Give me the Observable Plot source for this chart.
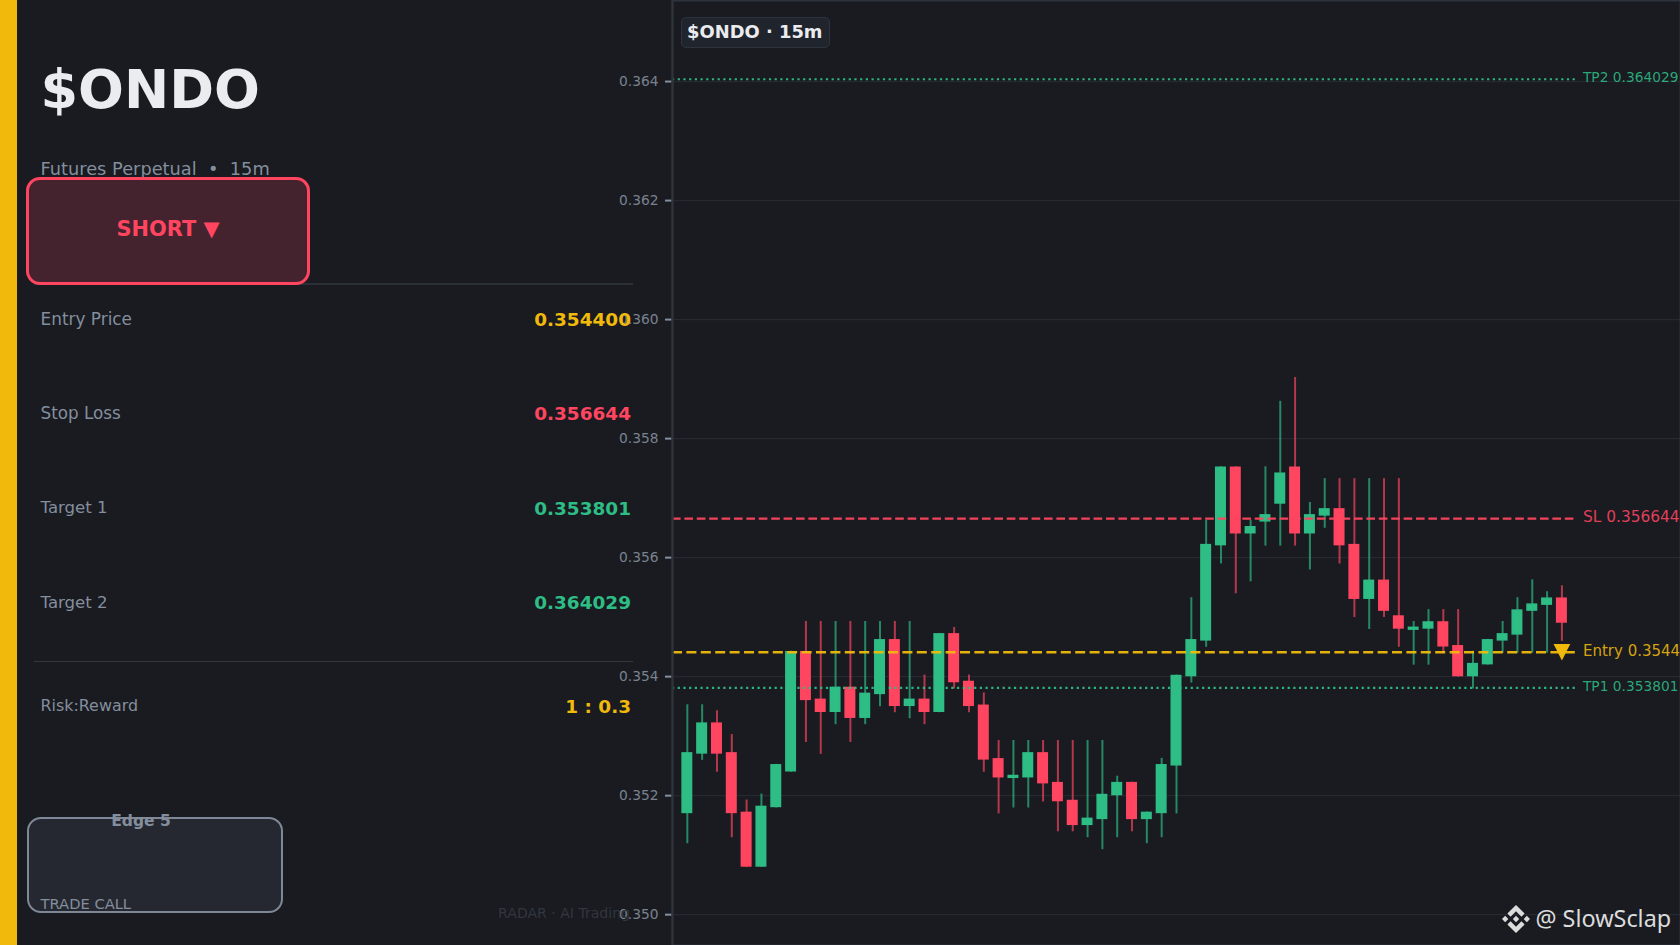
<!DOCTYPE html>
<html>
<head>
<meta charset="utf-8">
<script src="https://cdn.jsdelivr.net/npm/d3@7"></script>
<script src="https://cdn.jsdelivr.net/npm/@observablehq/plot@0.6"></script>
<style>
  html,body{margin:0;padding:0;background:#191b21;}
  #stage{position:relative;width:1680px;height:945px;overflow:hidden;background:#191b21;font-family:"DejaVu Sans",sans-serif;}
  #stage svg.plot{position:absolute;left:0;top:0;background:transparent;overflow:hidden;}
  .t{position:absolute;white-space:pre;line-height:1;}
  .box{position:absolute;box-sizing:border-box;}
  .lab{color:#848e9c;font-size:16.8px;left:40.5px;}
  .val{font-weight:700;font-size:18.45px;right:1049px;}
</style>
</head>
<body>
<div id="stage"></div>
<script>
const opens  = [.3517,.3527,.3532,.3527,.3517,.3508,.3518,.3524,.3544,.3536,.3534,.3538,.3533,.3537,.3546,.3535,.3536,.3534,.3547,.3539,.3535,.3526,.35229,.3523,.3527,.3522,.3519,.3515,.3516,.3520,.3522,.3516,.3517,.3525,.3540,.3546,.3562,.3575,.3564,.3566,.3569,.3575,.3564,.3567,.3568,.3562,.3553,.3556,.3550,.35478,.3548,.3549,.3545,.3540,.3542,.3546,.3547,.3551,.3552,.3553];
const closes = [.3527,.3532,.3527,.3517,.3508,.3518,.3525,.3544,.3536,.3534,.3538,.3533,.3537,.3546,.3535,.3536,.3534,.3547,.3539,.3535,.3526,.3523,.35232,.3527,.3522,.3519,.3515,.3516,.3520,.3522,.3516,.3517,.3525,.3540,.3546,.3562,.3575,.3564,.3565,.3567,.3574,.3564,.3567,.3568,.3562,.3553,.3556,.3551,.3548,.35481,.3549,.3545,.3540,.3542,.3546,.3547,.3551,.3552,.3553,.3549];
const highs  = [.3535,.3535,.3534,.3530,.3519,.3520,.3525,.3544,.3549,.3549,.3549,.3549,.3549,.3549,.3549,.3549,.3540,.3547,.3548,.3540,.3537,.3529,.3529,.3529,.3529,.3529,.3529,.3529,.3529,.3523,.3522,.3517,.3526,.3540,.3553,.3566,.3575,.3575,.3566,.3575,.3586,.3590,.3569,.3573,.3573,.3573,.3573,.3573,.3573,.3549,.3551,.3551,.3551,.3544,.3546,.3549,.3553,.3556,.3554,.3555];
const lows   = [.3512,.3526,.3524,.3513,.3508,.3508,.3518,.3524,.3529,.3527,.3532,.3529,.3532,.3535,.3534,.3533,.3532,.3534,.3538,.3534,.3524,.3517,.3518,.3518,.3519,.3514,.3514,.3513,.3511,.3513,.3514,.3512,.3513,.3517,.3539,.3545,.3559,.3554,.3556,.3562,.3562,.3562,.3558,.3565,.3559,.3550,.3548,.3550,.3545,.3542,.3542,.3544,.3540,.3538,.3542,.3544,.3544,.3544,.3544,.3546];

const yTicks = [.350,.352,.354,.356,.358,.360,.362,.364];

const levelNames  = ["Entry","SL","TP1","TP2"];
const levelPrices = [.3544,.356644,.353801,.364029];
const levelLabels = ["Entry 0.3544","SL 0.356644","TP1 0.353801","TP2 0.364029"];

const rowLabels = ["Entry Price","Stop Loss","Target 1","Target 2","Risk:Reward"];
const rowValues = ["0.354400","0.356644","0.353801","0.364029","1 : 0.3"];

const GOLD="#f0b90b", GREEN="#2ebd85", RED="#ff4560", MUTED="#848e9c", LINE="#2b2f36", BRIGHT="#eaecef";

const candles = opens.map((o,i)=>({i,o,c:closes[i],h:highs[i],l:lows[i],dir:closes[i]>=o?"up":"down"}));
const last = candles.length - 1;
const levels = levelNames.map((n,k)=>({n,price:levelPrices[k],label:levelLabels[k]}));
const levelEnd = last + 1, labelAt = last + 1.42;
const lv = n => levels.filter(d=>d.n===n);
const levelLine = (n,color,dash,w)=>Plot.ruleY(lv(n),{y:"price",x1:-1,x2:levelEnd,stroke:color,strokeWidth:w,strokeDasharray:dash,strokeOpacity:.95});
const levelText = (n,color,size)=>Plot.text(lv(n),{x:labelAt,y:"price",text:"label",fill:color,fillOpacity:.88,textAnchor:"start",lineAnchor:"middle",dy:-1.5,fontSize:size});

const downTriangle = {draw(ctx,size){const s=Math.sqrt(size);ctx.moveTo(-s*.5,-s*.5);ctx.lineTo(s*.5,-s*.5);ctx.lineTo(0,s*.5);ctx.closePath();}};

const chart = Plot.plot({
  width:1680,height:945,
  marginLeft:672,marginRight:0,marginTop:0,marginBottom:0,
  style:{background:"transparent",fontFamily:"'DejaVu Sans',sans-serif"},
  x:{domain:[-1,67],axis:null},
  y:{domain:[.349472,.365352],axis:null},
  color:{domain:["up","down"],range:[GREEN,RED]},
  marks:[
    Plot.ruleY(yTicks,{stroke:LINE,strokeWidth:1.3,strokeOpacity:.75,dy:.6}),
    Plot.ruleX(candles,{x:"i",y1:"l",y2:"h",stroke:"dir",strokeWidth:2,strokeOpacity:.68,strokeLinecap:"square"}),
    Plot.rect(candles,{x1:d=>d.i-.32,x2:d=>d.i+.32,y1:"o",y2:"c",fill:"dir",stroke:"dir",strokeWidth:1.5}),
    levelLine("TP2",GREEN,"2.2,3.5",2.2),
    levelLine("TP1",GREEN,"2.2,3.5",2.2),
    levelLine("SL",RED,"8.6,3.8",2.3),
    levelLine("Entry",GOLD,"10,4.4",2.6),
    Plot.dot([candles[last]],{x:"i",y:()=>levelPrices[0],symbol:downTriangle,r:9.4,fill:GOLD,stroke:null}),
    levelText("TP2",GREEN,13.75),levelText("TP1",GREEN,13.75),levelText("SL",RED,15.4),levelText("Entry",GOLD,15),
    Plot.axisY(yTicks,{anchor:"left",tickSize:7,tickPadding:7,stroke:MUTED,strokeWidth:2,fill:"#7a828e",tickFormat:".3f",fontSize:13.8,dy:.6}),
    Plot.ruleX([-1],{stroke:"#2f333b",strokeWidth:2}),
    Plot.frame({stroke:"#2f333b",strokeWidth:2})
  ]
});

const stage = document.getElementById("stage");
function add(cls,css,text){const e=document.createElement("div");e.className=cls;e.style.cssText=css;if(text!=null)e.textContent=text;stage.appendChild(e);return e;}

/* left card, beneath the chart layer */
add("box",`left:0;top:0;width:17px;height:945px;background:${GOLD};`);
add("t",`left:40.5px;top:63px;font-size:54px;font-weight:700;color:${BRIGHT};line-height:54px;`,"$ONDO");
add("t",`left:40.5px;top:160px;font-size:17.8px;color:${MUTED};`,"Futures Perpetual  •  15m");
add("box",`left:34px;top:283px;width:599px;height:2px;background:${LINE};`);
add("box",`left:26px;top:176.5px;width:284px;height:108px;border:3px solid ${RED};border-radius:14px;background:#44232e;`);
add("t",`left:168px;top:229px;transform:translate(-50%,-50%);font-size:20.9px;font-weight:700;color:${RED};`,"SHORT ▼");
const rowY=[319,413,508,602.5,706];
const rowColor=[GOLD,RED,GREEN,GREEN,GOLD];
const rowSize=[16.9,16.8,16.6,16.6,15.9];
rowLabels.forEach((l,k)=>{
  add("t lab",`top:${rowY[k]}px;transform:translateY(-50%);font-size:${rowSize[k]}px;`,l);
  add("t val",`top:${rowY[k]+.5}px;transform:translateY(-50%);color:${rowColor[k]};`,rowValues[k]);
});
add("box",`left:34px;top:661px;width:599px;height:1px;background:#33373f;`);
add("box",`left:26.5px;top:817px;width:256px;height:96px;border:2px solid #7f8896;border-radius:14px;background:#252830;`);
add("t",`left:141px;top:822px;transform:translate(-50%,-50%);font-size:15.5px;font-weight:700;color:${MUTED};`,"Edge 5");
add("t",`left:40.5px;top:896.5px;font-size:14.7px;color:${MUTED};`,"TRADE CALL");
add("t",`right:1050px;top:913px;transform:translateY(-50%);font-size:14.05px;color:#32363e;`,"RADAR · AI Trading");

stage.appendChild(chart);

/* chart badge and watermark, above the chart layer */
add("box",`left:681px;top:17px;width:149px;height:30.5px;background:#20242c;border:1.3px solid #2f333b;border-radius:5px;`);
add("t",`left:687px;top:31.5px;transform:translateY(-50%);font-size:17.9px;font-weight:700;color:${BRIGHT};`,"$ONDO · 15m");
const logo=add("box",`left:1502px;top:905px;width:28px;height:28px;`);
logo.innerHTML=`<svg viewBox="0 0 126.61 126.61" width="28" height="28" fill="#dcdcdc"><path d="M38.73 53.2l24.59-24.58 24.6 24.6 14.3-14.31L63.32 0 24.42 38.9z"/><path d="M0 63.31l14.3-14.31 14.31 14.31-14.31 14.3z"/><path d="M38.73 73.41L63.32 98l24.6-24.6 14.31 14.29-38.9 38.91-38.91-38.88z"/><path d="M98 63.31l14.3-14.31 14.31 14.3-14.31 14.32z"/><path d="M77.83 63.3L63.32 48.78 52.59 59.51l-1.24 1.23-2.54 2.54 14.51 14.5 14.51-14.47z"/></svg>`;
add("t",`left:1535.5px;top:919px;transform:translateY(-50%);font-family:'Noto Sans',sans-serif;font-size:23.4px;color:#dcdcdc;`,"@ SlowSclap");
</script>
</body>
</html>
